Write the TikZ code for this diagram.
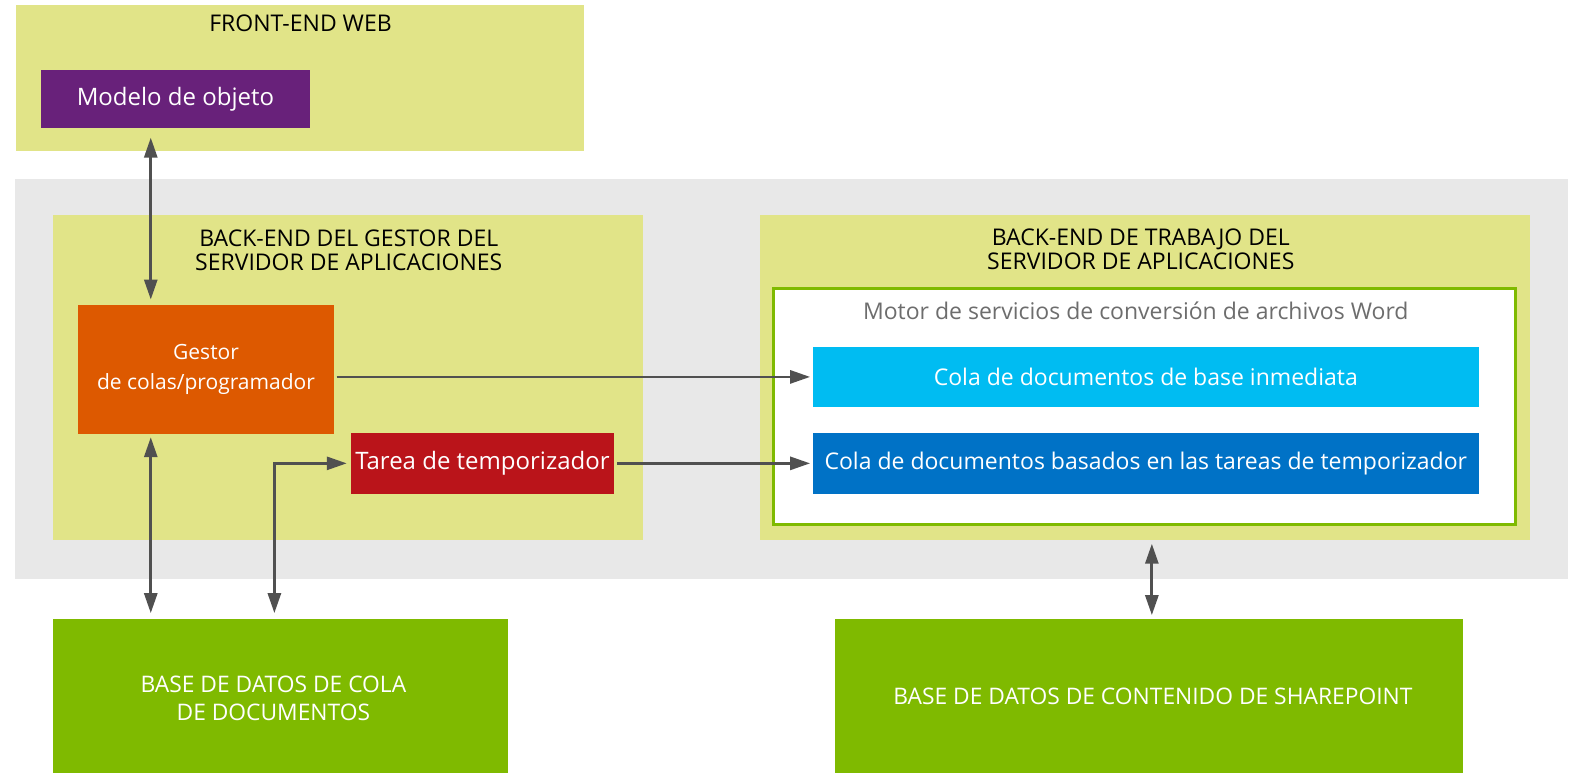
\documentclass[tikz,border=0pt]{standalone}
\usepackage{fontspec}
\setmainfont{Open Sans}
\usetikzlibrary{arrows.meta,calc}
\definecolor{feyellow}{HTML}{E1E488}
\definecolor{purp}{HTML}{68217A}
\definecolor{grayback}{HTML}{E8E8E8}
\definecolor{orng}{HTML}{DD5900}
\definecolor{redd}{HTML}{BA141A}
\definecolor{cyanq}{HTML}{00BCF2}
\definecolor{blueq}{HTML}{0072C6}
\definecolor{greendb}{HTML}{7FBA00}
\definecolor{arrgray}{HTML}{505050}
\definecolor{motorgray}{HTML}{6D6D6D}
\tikzset{
  fill box/.style={draw=none, inner sep=0pt, outer sep=0pt},
  whitebox/.style={fill box, text=white, font=\fontsize{22}{26}\selectfont, align=center},
  titletext/.style={inner sep=0pt, font=\fontsize{23}{24}\selectfont, align=center, text=black},
  arr/.style={draw=arrgray, line width=2.8pt, -{Triangle[length=20pt,width=13pt]}},
  darr/.style={draw=arrgray, line width=2.8pt, {Triangle[length=20pt,width=13pt]}-{Triangle[length=20pt,width=13pt]}},
}
\begin{document}
\begin{tikzpicture}[x=1.005pt,y=-1.005pt]
\useasboundingbox (0,0) rectangle (1568,769);
% containers
\node[fill box, fill=feyellow, minimum width=565*1.005pt, minimum height=145*1.005pt] (fe) at (298.5,77.5) {};
\node[titletext] (fetitle) at (299,23) {FRONT-END WEB};
\node[whitebox, fill=purp, minimum width=267*1.005pt, minimum height=57*1.005pt, font=\fontsize{24}{26}\selectfont] (modelo) at (174.5,98.5) {\raisebox{-2pt}{Modelo de objeto}};

\node[fill box, fill=grayback, minimum width=1545*1.005pt, minimum height=398*1.005pt] (gray) at (787.5,377) {};

\node[fill box, fill=feyellow, minimum width=587*1.005pt, minimum height=323*1.005pt] (lb) at (346.5,375.5) {};
\node[titletext] (lbtitle) at (347,249) {BACK-END DEL GESTOR DEL\\SERVIDOR DE APLICACIONES};

\node[fill box, fill=feyellow, minimum width=766*1.005pt, minimum height=323*1.005pt] (rb) at (1139,375.5) {};
\node[titletext] (rbtitle) at (1135,248) {BACK-END DE TRABAJO DEL\\SERVIDOR DE APLICACIONES};

\node[draw=greendb, line width=3pt, fill=white, inner sep=0pt, minimum width=738*1.005pt, minimum height=234*1.005pt] (engine) at (1138.5,404.5) {};
\node[inner sep=0pt, text=motorgray, font=\fontsize{23}{26}\selectfont] (motor) at (1130,309) {Motor de servicios de conversión de archivos Word};

\node[whitebox, fill=orng, minimum width=254*1.005pt, minimum height=129*1.005pt, font=\fontsize{21}{30}\selectfont] (gestor) at (205,367.5) {Gestor\\de colas/programador};
\node[whitebox, fill=redd, minimum width=262*1.005pt, minimum height=60*1.005pt, font=\fontsize{24}{26}\selectfont] (tarea) at (480,461) {\raisebox{-2pt}{Tarea de temporizador}};

\node[whitebox, fill=cyanq, minimum width=662*1.005pt, minimum height=60*1.005pt, font=\fontsize{23}{26}\selectfont] (cola1) at (1140,375) {\raisebox{-2pt}{Cola de documentos de base inmediata}};
\node[whitebox, fill=blueq, minimum width=662*1.005pt, minimum height=60*1.005pt, font=\fontsize{23}{26}\selectfont] (cola2) at (1140,461) {\raisebox{-2pt}{Cola de documentos basados en las tareas de temporizador}};

\node[fill box, fill=greendb, minimum width=452*1.005pt, minimum height=153*1.005pt] (db1) at (279,692.5) {};
\node[whitebox, font=\fontsize{22.8}{28}\selectfont] (db1text) at (272,695) {BASE DE DATOS DE COLA\\DE DOCUMENTOS};
\node[fill box, fill=greendb, minimum width=625*1.005pt, minimum height=153*1.005pt] (db2) at (1143.5,692.5) {};
\node[whitebox, font=\fontsize{22.8}{28}\selectfont] (db2text) at (1147,693) {BASE DE DATOS DE CONTENIDO DE SHAREPOINT};

% connector x positions
\coordinate (c1) at (150,0);
\coordinate (c2) at (273,0);
\coordinate (c3) at (1146,0);

% connectors
\draw[darr, shorten <=10pt, shorten >=5pt] (modelo.south -| c1) -- (gestor.north -| c1);
\draw[arr, shorten <=3pt, shorten >=3pt] (cola1.west -| gestor.east) -- (cola1.west);
\draw[darr, shorten <=3pt, shorten >=6pt] (gestor.south -| c1) -- (db1.north -| c1);
\draw[darr, shorten <=6pt, shorten >=4pt] (db1.north -| c2) |- (tarea.west);
\draw[arr, shorten <=3pt, shorten >=3pt] (tarea.east) -- (cola2.west);
\draw[darr, shorten <=4pt, shorten >=4pt] (rb.south -| c3) -- (db2.north -| c3);
\end{tikzpicture}
\end{document}
